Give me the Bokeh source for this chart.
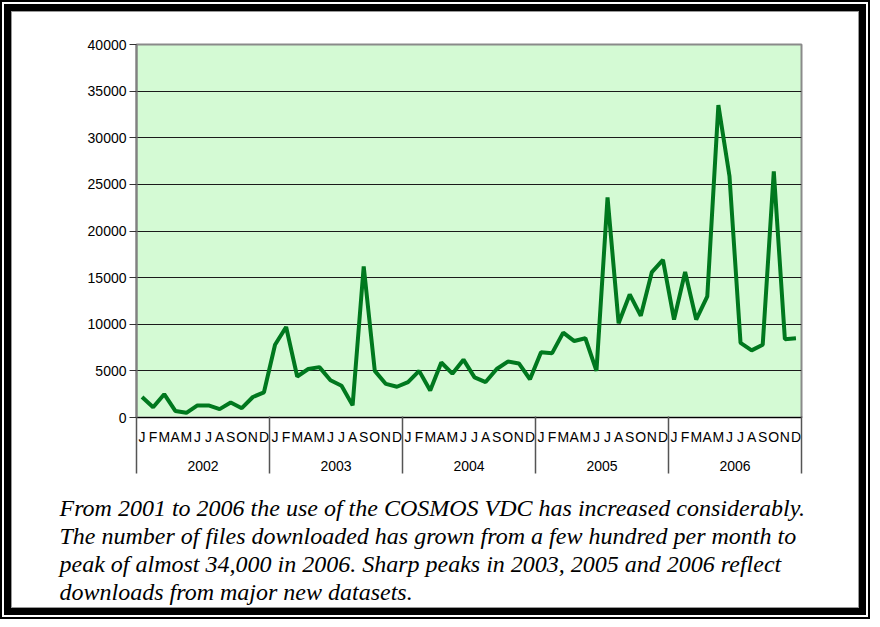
from bokeh.plotting import figure
from bokeh.models import Range1d, FixedTicker, LinearAxis, Title
from bokeh.layouts import column
from bokeh.embed import file_html
from bokeh.resources import INLINE

# ---- data (monthly number of files downloaded) ----
months = ["J", "F", "M", "A", "M", "J", "J", "A", "S", "O", "N", "D"]
years = ["2002", "2003", "2004", "2005", "2006"]
downloads_2002 = [2200, 1100, 2500, 700, 500, 1300, 1300, 900, 1600, 1000, 2200, 2700]
downloads_2003 = [7800, 9700, 4400, 5200, 5400, 4000, 3400, 1300, 16200, 5000, 3600, 3300]
downloads_2004 = [3800, 5000, 2900, 5900, 4700, 6200, 4300, 3800, 5200, 6000, 5800, 4100]
downloads_2005 = [7000, 6900, 9100, 8200, 8500, 5000, 23600, 10100, 13200, 10900, 15600, 16900]
downloads_2006 = [10500, 15600, 10500, 13000, 33500, 25900, 8000, 7200, 7800, 26400, 8400, 8500]
y_ticks = [0, 5000, 10000, 15000, 20000, 25000, 30000, 35000, 40000]
caption = [
    "From 2001 to 2006 the use of the COSMOS VDC has increased considerably.",
    "The number of files downloaded has grown from a few hundred per month to",
    "peak of almost 34,000 in 2006.  Sharp peaks in 2003, 2005 and 2006 reflect",
    "downloads from major new datasets.",
]

values = downloads_2002 + downloads_2003 + downloads_2004 + downloads_2005 + downloads_2006
n_months = len(values)
xs = [i + 0.5 for i in range(n_months)]
boundaries = [12 * k for k in range(len(years) + 1)]
year_pos = [12 * k + 6 for k in range(len(years))]

p = figure(width=846, height=595, output_backend="svg", toolbar_location=None,
           x_range=Range1d(0, n_months), y_range=Range1d(0, y_ticks[-1]),
           min_border_left=124, min_border_right=57, min_border_top=32,
           min_border_bottom=190,
           background_fill_color="#D4FAD4", border_fill_color="white")
p.outline_line_color = "#8a8a8a"
p.outline_line_width = 2

p.line(xs, values, line_color="#00781E", line_width=4, line_join="bevel")

# y axis
yax = p.yaxis[0]
yax.ticker = FixedTicker(ticks=y_ticks)
yax.axis_line_color = "#808080"
yax.axis_line_width = 2
yax.major_tick_out = 7
yax.major_tick_in = 0
yax.major_tick_line_color = "#333333"
yax.minor_tick_line_color = None
yax.major_label_standoff = 3
yax.major_label_text_font = "Liberation Sans"
yax.major_label_text_font_size = "14px"
yax.major_label_text_color = "black"
p.ygrid[0].ticker = FixedTicker(ticks=y_ticks)
p.ygrid[0].grid_line_color = "#1a1a1a"
p.ygrid[0].grid_line_width = 1
p.xgrid.visible = False

# month axis
xax = p.xaxis[0]
xax.ticker = FixedTicker(ticks=xs)
xax.major_label_overrides = {x: months[i % 12] for i, x in enumerate(xs)}
xax.axis_line_color = "black"
xax.axis_line_width = 1
xax.major_tick_line_color = None
xax.minor_tick_line_color = None
xax.major_tick_out = 0
xax.major_tick_in = 0
xax.minor_tick_out = 0
xax.minor_tick_in = 0
xax.major_label_standoff = 11
xax.major_label_text_font = "Liberation Sans"
xax.major_label_text_font_size = "14px"
xax.major_label_text_color = "black"

# year axis
yr = LinearAxis(ticker=FixedTicker(ticks=year_pos),
                major_label_overrides={v: years[k] for k, v in enumerate(year_pos)},
                axis_line_color=None, major_tick_line_color=None, minor_tick_line_color=None,
                major_tick_out=0, major_tick_in=0, minor_tick_out=0, minor_tick_in=0,
                major_label_standoff=13, major_label_text_font="Liberation Sans",
                major_label_text_font_size="14px", major_label_text_color="black")
p.add_layout(yr, "below")

# year separators (ticks pointing up through both label rows); blank labels
sep = LinearAxis(ticker=FixedTicker(ticks=boundaries),
                 major_label_overrides={v: " " for v in boundaries},
                 axis_line_color=None, major_tick_line_color="#555555",
                 major_tick_line_width=1.5, major_tick_in=57, major_tick_out=0,
                 minor_tick_line_color=None, minor_tick_in=0, minor_tick_out=0,
                 major_label_standoff=14, major_label_text_font_size="2px",
                 major_label_text_color="black")
p.add_layout(sep, "below")

for line in caption:
    p.add_layout(Title(text=line, align="left", offset=-77, standoff=0,
                       text_font="Liberation Serif", text_font_style="italic",
                       text_font_size="24px", text_color="black"), "below")

inner = column(p, styles={"border": "1px solid #999999"})
thick = column(inner, styles={"border": "7px solid black"})
outer = column(thick, styles={"border": "2px solid black", "padding": "2px",
                              "background-color": "white"})

open("out.html", "w").write(file_html(outer, INLINE))
